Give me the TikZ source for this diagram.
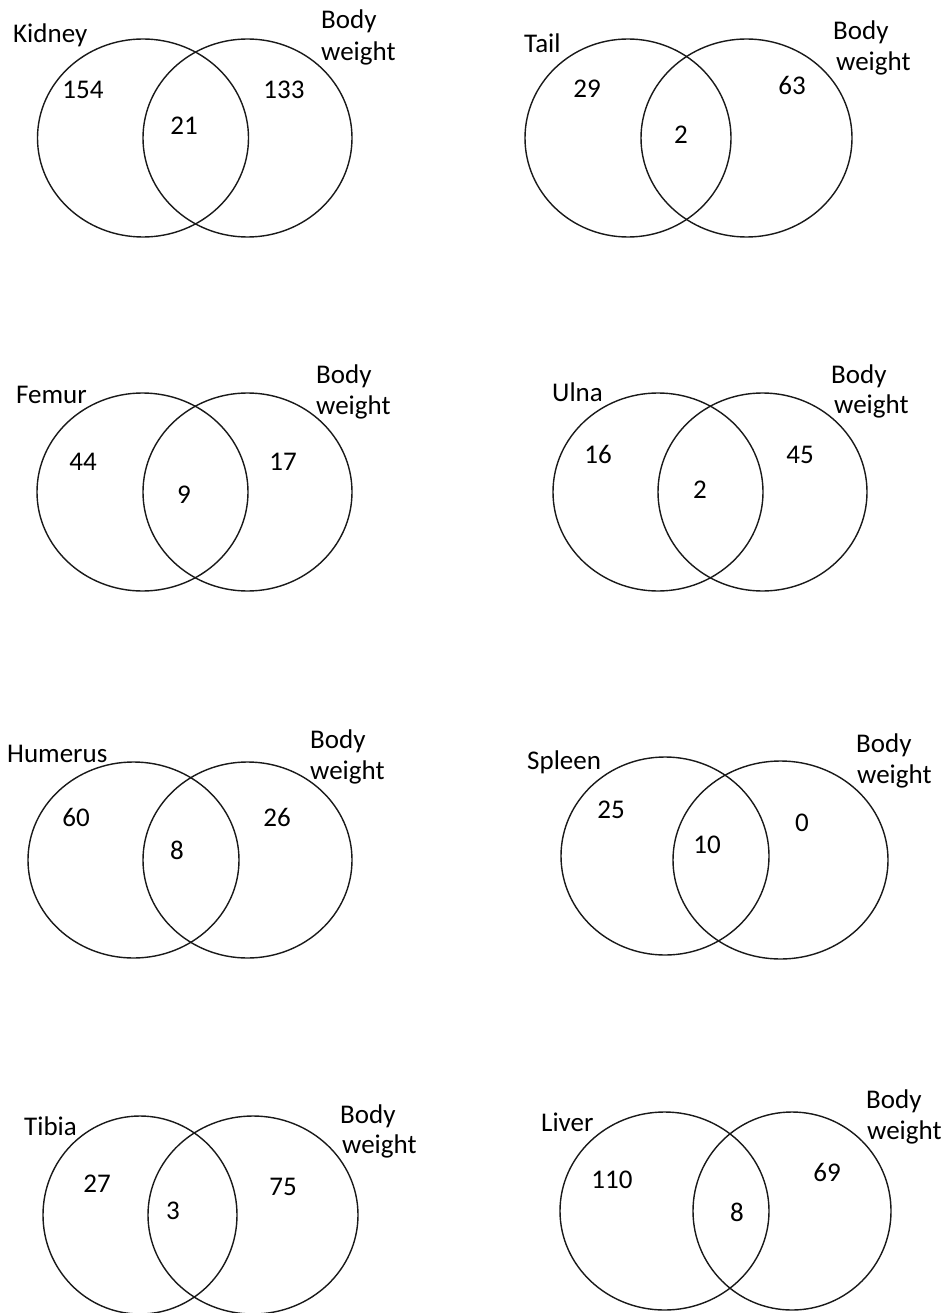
\documentclass[tikz,border=0pt]{standalone}
\usepackage{fontspec}
\setmainfont{Carlito}
\usetikzlibrary{shapes.geometric}
\begin{document}
\begin{tikzpicture}[x=1pt,y=-1pt,
  vset/.style={ellipse, draw=black!90, line width=1.4pt, inner sep=0pt, outer sep=0pt},
  lab/.style={anchor=base west, inner sep=0pt, text=black, font=\fontsize{27}{32}\selectfont},
  num/.style={anchor=base, inner sep=0pt, text=black, font=\fontsize{27}{32}\selectfont}]
\useasboundingbox[fill=white] (0,0) rectangle (948,1313);
% Kidney
\node[vset, minimum width=211pt, minimum height=198pt] (kA) at (143,138) {};
\node[vset, minimum width=209pt, minimum height=198pt] (kB) at (247.5,138) {};
\node[lab] (kL) at (13,43) {Kidney};
\node[lab] (kB1) at (321,29) {Body};
\node[lab] (kB2) at (321,61) {weight};
\node[num] (kn1) at (83,99) {154};
\node[num] (kn2) at (284,99) {133};
\node[num] (kn3) at (184,135) {21};
% Tail
\node[vset, minimum width=206pt, minimum height=198pt] (tA) at (628,138) {};
\node[vset, minimum width=211pt, minimum height=198pt] (tB) at (746.5,138) {};
\node[lab] (tL) at (524,53) {Tail};
\node[lab] (tB1) at (833,40) {Body};
\node[lab] (tB2) at (836,71) {weight};
\node[num] (tn1) at (587,98) {29};
\node[num] (tn2) at (792,95) {63};
\node[num] (tn3) at (681,144) {2};
% Femur
\node[vset, minimum width=211pt, minimum height=198pt] (fA) at (142.5,492) {};
\node[vset, minimum width=209pt, minimum height=198pt] (fB) at (247.5,492) {};
\node[lab] (fL) at (16,403) {Femur};
\node[lab] (fB1) at (316,383) {Body};
\node[lab] (fB2) at (316,414) {weight};
\node[num] (fn1) at (83,470) {44};
\node[num] (fn2) at (283,470) {17};
\node[num] (fn3) at (184,503) {9};
% Ulna
\node[vset, minimum width=210pt, minimum height=198pt] (uA) at (658,492) {};
\node[vset, minimum width=209pt, minimum height=198pt] (uB) at (762.5,492) {};
\node[lab] (uL) at (552,401) {Ulna};
\node[lab] (uB1) at (831,383) {Body};
\node[lab] (uB2) at (834,413) {weight};
\node[num] (un1) at (598,463) {16};
\node[num] (un2) at (800,463) {45};
\node[num] (un3) at (700,498) {2};
% Humerus
\node[vset, minimum width=211pt, minimum height=196pt] (hA) at (133.5,860) {};
\node[vset, minimum width=209pt, minimum height=196pt] (hB) at (247.5,860) {};
\node[lab] (hL) at (7,762) {Humerus};
\node[lab] (hB1) at (310,748) {Body};
\node[lab] (hB2) at (310,779) {weight};
\node[num] (hn1) at (76,826) {60};
\node[num] (hn2) at (277,826) {26};
\node[num] (hn3) at (177,859) {8};
% Spleen
\node[vset, minimum width=208pt, minimum height=198pt] (sA) at (665,856) {};
\node[vset, minimum width=215pt, minimum height=198pt] (sB) at (780.5,860) {};
\node[lab] (sL) at (527,769) {Spleen};
\node[lab] (sB1) at (856,752) {Body};
\node[lab] (sB2) at (857,783) {weight};
\node[num] (sn1) at (611,818) {25};
\node[num] (sn2) at (802,831) {0};
\node[num] (sn3) at (707,853) {10};
% Tibia
\node[vset, minimum width=194pt, minimum height=198pt] (bA) at (140,1215) {};
\node[vset, minimum width=210pt, minimum height=198pt] (bB) at (253,1215) {};
\node[lab] (bL) at (24,1135) {Tibia};
\node[lab] (bB1) at (340,1123) {Body};
\node[lab] (bB2) at (342,1153) {weight};
\node[num] (bn1) at (97,1192) {27};
\node[num] (bn2) at (283,1195) {75};
\node[num] (bn3) at (173,1219) {3};
% Liver
\node[vset, minimum width=209pt, minimum height=198pt] (lA) at (664.5,1211) {};
\node[vset, minimum width=198pt, minimum height=198pt] (lB) at (792,1211) {};
\node[lab] (lL) at (541,1131) {Liver};
\node[lab] (lB1) at (866,1108) {Body};
\node[lab] (lB2) at (867,1139) {weight};
\node[num] (ln1) at (612,1188) {110};
\node[num] (ln2) at (827,1181) {69};
\node[num] (ln3) at (737,1221) {8};
\end{tikzpicture}
\end{document}
